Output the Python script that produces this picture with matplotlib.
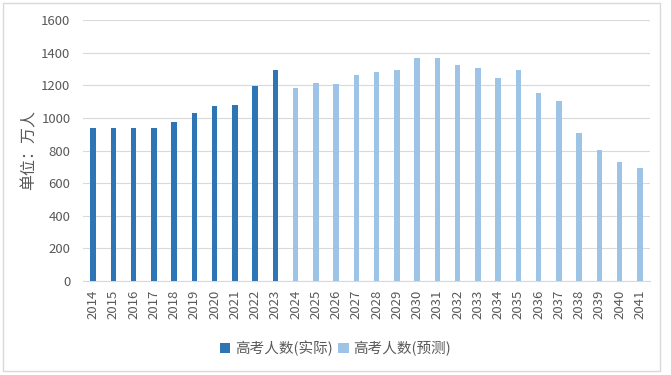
import matplotlib.pyplot as plt
from matplotlib.patches import Rectangle

plt.rcParams['font.family'] = ['Noto Sans CJK SC', 'DejaVu Sans']

# Data (万人)
years_actual = ['2014', '2015', '2016', '2017', '2018', '2019', '2020', '2021', '2022', '2023']
values_actual = [940, 940, 940, 940, 975, 1031, 1071, 1078, 1193, 1291]

years_forecast = ['2024', '2025', '2026', '2027', '2028', '2029', '2030', '2031', '2032',
                  '2033', '2034', '2035', '2036', '2037', '2038', '2039', '2040', '2041']
values_forecast = [1185, 1215, 1210, 1265, 1283, 1295, 1370, 1370, 1325,
                   1305, 1245, 1295, 1150, 1105, 910, 805, 730, 690]

label_actual = '高考人数(实际)'
label_forecast = '高考人数(预测)'

dark_blue = '#2E75B6'
light_blue = '#9DC3E6'
text_gray = '#595959'

years = years_actual + years_forecast
x_actual = list(range(len(years_actual)))
x_forecast = list(range(len(years_actual), len(years)))

fig = plt.figure(figsize=(6.71, 3.75), dpi=100)
ax = fig.add_axes([83 / 671, 1 - 281 / 375, (650 - 83) / 671, (281 - 20) / 375])

ax.bar(x_actual, values_actual, width=0.28, color=dark_blue, label=label_actual, zorder=3)
ax.bar(x_forecast, values_forecast, width=0.28, color=light_blue, label=label_forecast, zorder=3)

ax.set_xlim(-0.5, len(years) - 0.5)
ax.set_ylim(0, 1600)
ax.set_yticks(range(0, 1601, 200))
ax.set_xticks(range(len(years)))
ax.set_xticklabels(years, rotation=90)
ax.tick_params(axis='both', length=0, colors=text_gray, labelsize=9.5)
ax.tick_params(axis='x', pad=6)
ax.tick_params(axis='y', pad=9)

ax.grid(axis='y', color='#D9D9D9', linewidth=0.8, zorder=0)
for side in ['top', 'right', 'left']:
    ax.spines[side].set_visible(False)
ax.spines['bottom'].set_color('#D9D9D9')

ax.set_ylabel('单位：万人', fontsize=11.5, color=text_gray, labelpad=3)

fig.legend(loc='center', bbox_to_anchor=(0.5, 1 - 348 / 375), ncol=2, frameon=False,
           fontsize=10.5, labelcolor=text_gray, handlelength=0.7, handleheight=0.7,
           handletextpad=0.3, columnspacing=0.4)

# light border around the chart area
fig.patches.append(Rectangle((3 / 671, 1 - 371 / 375), 657 / 671, 368 / 375,
                             transform=fig.transFigure, fill=False,
                             edgecolor='#D9D9D9', linewidth=1))

fig.savefig('out.png', dpi=100)
